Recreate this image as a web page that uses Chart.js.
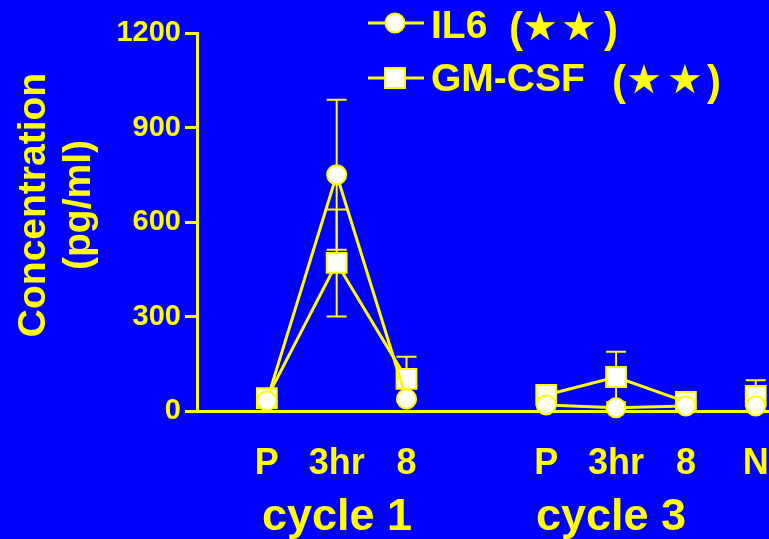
<!DOCTYPE html>
<html>
<head>
<meta charset="utf-8">
<script src="https://cdn.jsdelivr.net/npm/chart.js@4.4.1/dist/chart.umd.min.js"></script>
<style>
  html, body { margin: 0; padding: 0; background: #0000FF; }
  #wrap { width: 769px; height: 539px; }
</style>
</head>
<body>
<div id="wrap"><canvas id="cytokines" width="769" height="539"></canvas></div>
<script>
// values (pg/ml)
const xPos = [0, 1, 2, 4, 5, 6, 7];
const xLabels = ['P', '3hr', '8', 'P', '3hr', '8', 'N'];
const il6 = [32, 750, 38, 19, 10, 16, 16];
const il6Err = [0, 238, 0, 0, 0, 0, 0];
const gmcsf = [41, 470, 102, 51, 108, 29, 48];
const gmcsfErr = [0, 170, 70, 0, 80, 0, 50];
const yTicks = [0, 300, 600, 900, 1200];
// no line drawn after these points
const breakAfter = [2, 5];

const yellow = '#FFFF00';
const font = '"Liberation Sans", Arial, sans-serif';

function pts(vals) {
  return vals.map((v, i) => ({ x: xPos[i], y: v }));
}

const errorBars = {
  id: 'errorBars',
  beforeDatasetsDraw(chart) {
    const ctx = chart.ctx;
    const xs = chart.scales.x, ys = chart.scales.y;
    const sets = [[il6, il6Err], [gmcsf, gmcsfErr]];
    ctx.save();
    ctx.strokeStyle = yellow;
    ctx.lineWidth = 2;
    sets.forEach(([vals, errs]) => {
      vals.forEach((v, i) => {
        if (!errs[i]) return;
        const x = xs.getPixelForValue(xPos[i]);
        const top = ys.getPixelForValue(v + errs[i]);
        const bot = ys.getPixelForValue(Math.max(v - errs[i], 0));
        ctx.beginPath();
        ctx.moveTo(x, top); ctx.lineTo(x, bot);
        ctx.moveTo(x - 10, top); ctx.lineTo(x + 10, top);
        ctx.moveTo(x - 10, bot); ctx.lineTo(x + 10, bot);
        ctx.stroke();
      });
    });
    ctx.restore();
  }
};

function stars(ctx, name, nameX, y, open, s1, s2, close) {
  ctx.textAlign = 'left';
  ctx.textBaseline = 'alphabetic';
  ctx.font = 'bold 39px ' + font;
  ctx.fillText(name, nameX, y);
  ctx.font = 'bold 42px ' + font;
  ctx.fillText('(', open, y + 4);
  ctx.textAlign = 'right';
  ctx.fillText(')', close, y + 4);
  ctx.textAlign = 'center';
  ctx.textBaseline = 'middle';
  ctx.font = 'bold 40px "DejaVu Sans", sans-serif';
  ctx.fillText('\u2605', s1, y - 8);
  ctx.fillText('\u2605', s2, y - 8);
}

const extras = {
  id: 'extras',
  afterDraw(chart) {
    const ctx = chart.ctx;
    ctx.save();
    ctx.fillStyle = yellow;

    // y axis title
    ctx.font = 'bold 39px ' + font;
    ctx.textAlign = 'center';
    ctx.textBaseline = 'alphabetic';
    ctx.save();
    ctx.translate(45, 205);
    ctx.rotate(-Math.PI / 2);
    ctx.fillText('Concentration', 0, 0);
    ctx.restore();
    ctx.save();
    ctx.translate(90, 205);
    ctx.rotate(-Math.PI / 2);
    ctx.fillText('(pg/ml)', 0, 0);
    ctx.restore();

    // cycle labels
    ctx.font = 'bold 45px ' + font;
    ctx.fillText('cycle 1', 337, 530);
    ctx.fillText('cycle 3', 611, 530);

    // legend
    ctx.strokeStyle = yellow;
    ctx.lineWidth = 3;
    [23, 78].forEach(y => {
      ctx.beginPath();
      ctx.moveTo(368, y); ctx.lineTo(424, y);
      ctx.stroke();
    });
    ctx.lineWidth = 2;
    ctx.fillStyle = '#FFFFFF';
    ctx.beginPath();
    ctx.arc(395, 23, 9.5, 0, Math.PI * 2);
    ctx.fill(); ctx.stroke();
    ctx.fillRect(385, 68, 20, 20);
    ctx.strokeRect(385, 68, 20, 20);

    ctx.fillStyle = yellow;
    stars(ctx, 'IL6', 431, 38, 509, 540, 579, 618);
    stars(ctx, 'GM-CSF', 431, 91, 612, 644, 685, 721);
    ctx.restore();
  }
};

const lineSeg = {
  borderColor: c => breakAfter.includes(c.p0DataIndex) ? 'rgba(0,0,0,0)' : yellow
};

new Chart(document.getElementById('cytokines'), {
  type: 'line',
  data: {
    datasets: [
      {
        label: 'IL6',
        data: pts(il6),
        borderColor: yellow,
        borderWidth: 3,
        pointStyle: 'circle',
        pointRadius: 9.5,
        pointBackgroundColor: '#FFFFFF',
        pointBorderColor: yellow,
        pointBorderWidth: 2,
        segment: lineSeg,
        clip: false,
        order: 0
      },
      {
        label: 'GM-CSF',
        data: pts(gmcsf),
        borderColor: yellow,
        borderWidth: 3,
        pointStyle: 'rect',
        pointRadius: 14,
        pointBackgroundColor: '#FFFFFF',
        pointBorderColor: yellow,
        pointBorderWidth: 2,
        segment: lineSeg,
        clip: false,
        order: 1
      }
    ]
  },
  options: {
    responsive: false,
    animation: false,
    events: [],
    layout: { autoPadding: false, padding: { top: 33, right: 0, left: 0, bottom: 0 } },
    plugins: { legend: { display: false }, tooltip: { enabled: false } },
    scales: {
      x: {
        type: 'linear',
        min: -1,
        max: 7.19,
        afterBuildTicks: s => { s.ticks = xPos.map(v => ({ value: v })); },
        afterFit: s => { s.height = 128; s.paddingLeft = 0; s.paddingRight = 0; },
        grid: { display: false, drawTicks: false },
        border: { color: yellow, width: 3 },
        ticks: {
          color: yellow,
          font: { family: font, weight: 'bold', size: 36 },
          padding: 31,
          maxRotation: 0,
          autoSkip: false,
          callback: v => xLabels[xPos.indexOf(v)]
        }
      },
      y: {
        min: 0,
        max: 1200,
        afterBuildTicks: s => { s.ticks = yTicks.map(v => ({ value: v })); },
        afterFit: s => { s.width = 197; },
        grid: { drawOnChartArea: false, drawTicks: true, tickLength: 12, color: yellow, lineWidth: 3 },
        border: { color: yellow, width: 3 },
        ticks: {
          color: yellow,
          font: { family: font, weight: 'bold', size: 29 },
          padding: 4,
          callback: v => String(v)
        }
      }
    }
  },
  plugins: [errorBars, extras]
});
</script>
</body>
</html>
